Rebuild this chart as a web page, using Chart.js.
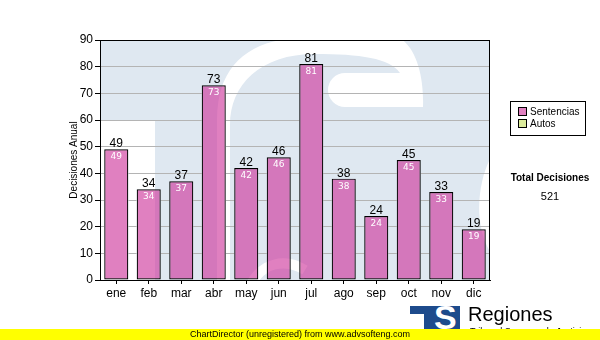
<!DOCTYPE html>
<html>
<head>
<meta charset="utf-8">
<script src="https://cdn.jsdelivr.net/npm/chart.js@4/dist/chart.umd.min.js"></script>
<style>
  html, body { margin: 0; padding: 0; background: #fff; }
  #wrap { position: relative; width: 600px; height: 340px; overflow: hidden; font-family: "Liberation Sans", Arial, sans-serif; }
  #c { position: absolute; left: 0; top: 0; }
  #legend { position: absolute; left: 510px; top: 101px; width: 76px; height: 35px; border: 1px solid #000; box-sizing: border-box; background: #fff; font-size: 10px; }
  .li { position: absolute; left: 7px; height: 12px; line-height: 12px; white-space: nowrap; }
  .sw { display: inline-block; width: 7px; height: 7px; border: 1px solid #000; vertical-align: -1px; margin-right: 3px; }
  #totT { position: absolute; left: 500px; top: 172px; width: 100px; text-align: center; font-weight: bold; font-size: 10px; }
  #totV { position: absolute; left: 500px; top: 190px; width: 100px; text-align: center; font-size: 11px; }
  #footer { position: absolute; left: 0; top: 329px; width: 600px; height: 11px; background: #ffff00; font-size: 9px; line-height: 11px; z-index: 5; }
  #footer span { position: absolute; left: 190px; top: 0; }
  #logo { position: absolute; left: 410px; top: 306px; width: 50px; height: 30px; background: #1d4b8c; overflow: hidden; }
  #logo .w1 { position: absolute; left: 0; top: 8px; width: 14px; height: 30px; background: #fff; }
  #logo .s { position: absolute; left: 24px; top: -6px; color: #fff; font-weight: bold; font-size: 34px; line-height: 34px; }
  #reg { position: absolute; left: 468px; top: 302px; font-size: 20px; line-height: 24px; color: #000; }
  #sub { position: absolute; left: 470px; top: 326px; font-size: 9px; color: #000; }
</style>
</head>
<body>
<div id="wrap">
  <canvas id="c" width="600" height="340"></canvas>
  <div id="legend">
    <div class="li" style="top:4px"><span class="sw" id="sw0"></span><span id="lg0"></span></div>
    <div class="li" style="top:16px"><span class="sw" id="sw1"></span><span id="lg1"></span></div>
  </div>
  <div id="totT">Total Decisiones</div>
  <div id="totV"></div>
  <div id="logo"><div class="w1"></div><div class="s">S</div></div>
  <div id="reg">Regiones</div>
  <div id="sub">Tribunal Supremo de Justicia</div>
  <div id="footer"><span>ChartDirector (unregistered) from www.advsofteng.com</span></div>
</div>
<script>
// ---- data ----
const months = ["ene","feb","mar","abr","may","jun","jul","ago","sep","oct","nov","dic"];
const sentencias = [49, 34, 37, 73, 42, 46, 81, 38, 24, 45, 33, 19];
const autos = [0, 0, 0, 0, 0, 0, 0, 0, 0, 0, 0, 0];
const seriesNames = ["Sentencias", "Autos"];
const yTicks = [0, 10, 20, 30, 40, 50, 60, 70, 80, 90];
const yTitle = "Decisiones Anual";

const pinkFill = "rgba(205,52,154,0.625)";
const pinkLegend = "#e080c0";
const greenFill = "#dcec9c";

document.getElementById("lg0").textContent = seriesNames[0];
document.getElementById("lg1").textContent = seriesNames[1];
document.getElementById("sw0").style.background = pinkLegend;
document.getElementById("sw1").style.background = greenFill;
const total = sentencias.reduce((a, b) => a + b, 0) + autos.reduce((a, b) => a + b, 0);
document.getElementById("totV").textContent = String(total);

// watermark (decorative logo behind plot)
function drawWatermark(ctx, a) {
  const L = a.left, T = a.top, W = a.right - a.left, H = a.bottom - a.top;
  ctx.save();
  ctx.beginPath(); ctx.rect(L, T, W, H); ctx.clip();
  ctx.fillStyle = "#dfe8f1";
  ctx.fillRect(L, T, W, H);
  ctx.fillStyle = "#ffffff";
  // left cut-out under the T bar
  ctx.fillRect(L, T + 80, 55, H);
  // white band outlining the S top-left
  ctx.beginPath();
  ctx.moveTo(L + 117, T + H + 5);
  ctx.lineTo(L + 117, T + 80);
  ctx.bezierCurveTo(L + 117, T + 25, L + 150, T - 2, L + 205, T - 2);
  ctx.lineTo(L + 300, T - 2);
  ctx.bezierCurveTo(L + 318, T + 10, L + 324, T + 40, L + 323, T + 67);
  ctx.lineTo(L + 245, T + 67);
  ctx.arc(L + 245, T + 50, 17, Math.PI / 2, Math.PI * 1.5, false);
  ctx.lineTo(L + 300, T + 33);
  ctx.bezierCurveTo(L + 290, T + 18, L + 260, T + 14, L + 215, T + 14);
  ctx.bezierCurveTo(L + 160, T + 14, L + 130, T + 45, L + 130, T + 85);
  ctx.lineTo(L + 130, T + H + 5);
  ctx.closePath();
  ctx.fill();
  // right edge outline
  ctx.beginPath();
  ctx.moveTo(L + W + 2, T + 115);
  ctx.bezierCurveTo(L + 378, T + 140, L + 372, T + 185, L + W + 2, T + 215);
  ctx.closePath();
  ctx.fill();
  // bottom outline
  ctx.strokeStyle = "#ffffff";
  ctx.lineWidth = 10;
  ctx.beginPath();
  ctx.moveTo(L + 150, T + H + 6);
  ctx.bezierCurveTo(L + 162, T + H - 18, L + 185, T + H - 22, L + 205, T + H - 10);
  ctx.stroke();
  ctx.restore();
}

const wmPlugin = {
  id: "wm",
  beforeDraw(chart) {
    drawWatermark(chart.ctx, chart.chartArea);
  },
  beforeDatasetsDraw(chart) {
    const ctx = chart.ctx;
    const meta = chart.getDatasetMeta(0);
    meta.data.forEach(el => {
      const w = el.width;
      ctx.save();
      ctx.beginPath();
      ctx.rect(el.x - w / 2, el.y, w, el.base - el.y);
      ctx.clip();
      drawWatermark(ctx, chart.chartArea);
      ctx.restore();
    });
  },
  afterDatasetsDraw(chart) {
    const ctx = chart.ctx;
    const meta = chart.getDatasetMeta(0);
    ctx.save();
    meta.data.forEach((el, i) => {
      const v = chart.data.datasets[0].data[i];
      ctx.textAlign = "center";
      ctx.fillStyle = "#000";
      ctx.font = "12px 'Liberation Sans', Arial, sans-serif";
      ctx.textBaseline = "alphabetic";
      ctx.fillText(String(v), el.x, el.y - 2);
      ctx.fillStyle = "#fff";
      ctx.font = "9px 'DejaVu Sans', Verdana, sans-serif";
      ctx.textBaseline = "top";
      ctx.fillText(String(v), el.x, el.y + 3);
    });
    ctx.restore();
  },
  afterDraw(chart) {
    const a = chart.chartArea, ctx = chart.ctx;
    ctx.save();
    ctx.strokeStyle = "#000";
    ctx.lineWidth = 1;
    ctx.strokeRect(Math.round(a.left) + 0.5, Math.round(a.top) + 0.5, Math.round(a.right - a.left) - 1, Math.round(a.bottom - a.top));
    ctx.restore();
  }
};

new Chart(document.getElementById("c"), {
  type: "bar",
  data: {
    labels: months,
    datasets: [
      { label: seriesNames[0], data: sentencias, backgroundColor: pinkFill, borderColor: "#000", borderWidth: 1.2, barPercentage: 0.74, categoryPercentage: 1, borderSkipped: false },
      { label: seriesNames[1], data: autos, backgroundColor: greenFill, borderColor: "#000", borderWidth: 0, barPercentage: 0.74, categoryPercentage: 1 }
    ]
  },
  options: {
    responsive: false,
    animation: false,
    layout: { padding: { left: 0, top: 40, right: 110, bottom: 40 } },
    plugins: { legend: { display: false }, tooltip: { enabled: false } },
    scales: {
      x: {
        stacked: true,
        grid: { display: true, drawOnChartArea: false, offset: false, tickLength: 4, tickColor: "#000", color: "#000" },
        border: { display: true, color: "#000" },
        ticks: { color: "#000", font: { family: "'Liberation Sans', Arial, sans-serif", size: 12 }, padding: 2 },
        afterFit(s) { s.height = 20; }
      },
      y: {
        stacked: true,
        min: 0, max: 90,
        afterBuildTicks(s) { s.ticks = yTicks.map(v => ({ value: v })); },
        grid: { color: (c) => c.tick && c.tick.value === 0 ? "rgba(0,0,0,0)" : "#b4b4b4", tickLength: 5, tickColor: "#000", lineWidth: 1 },
        border: { display: true, color: "#000" },
        ticks: { color: "#000", font: { family: "'Liberation Sans', Arial, sans-serif", size: 12 }, padding: 2 },
        title: { display: true, text: yTitle, color: "#000", font: { family: "'Liberation Sans', Arial, sans-serif", size: 10 }, padding: { top: 68, bottom: 0 } },
        afterFit(s) { s.width = 100; }
      }
    }
  },
  plugins: [wmPlugin]
});
</script>
</body>
</html>
